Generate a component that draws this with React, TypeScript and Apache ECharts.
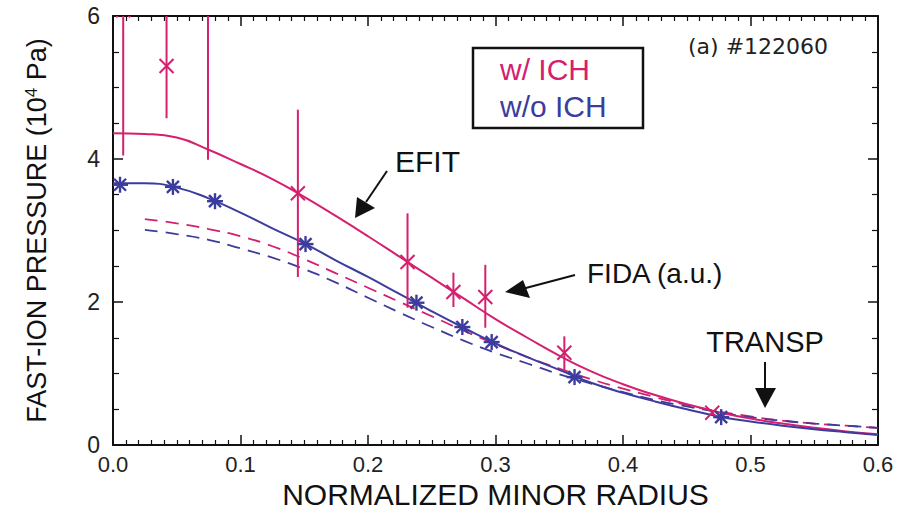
import React, { useEffect, useRef } from "react";
import * as echarts from "echarts";

// ---- data ----
const RED = "#d4206e";
const BLUE = "#3c3c9e";

// EFIT profiles (solid)
const efitWithICH: [number, number][] = [
  [0, 4.36], [0.025, 4.35], [0.05, 4.3], [0.075, 4.13], [0.1, 3.93], [0.125, 3.72],
  [0.15, 3.47], [0.175, 3.2], [0.2, 2.92], [0.225, 2.63], [0.25, 2.34], [0.275, 2.05],
  [0.3, 1.76], [0.325, 1.5], [0.35, 1.25], [0.375, 1.03], [0.4, 0.85], [0.425, 0.7],
  [0.45, 0.57], [0.475, 0.46], [0.5, 0.37], [0.525, 0.3], [0.55, 0.24], [0.575, 0.19], [0.6, 0.15],
];
const efitWithoutICH: [number, number][] = [
  [0, 3.66], [0.025, 3.66], [0.05, 3.6], [0.075, 3.45], [0.1, 3.25], [0.125, 3.03],
  [0.15, 2.82], [0.175, 2.58], [0.2, 2.35], [0.225, 2.11], [0.25, 1.87], [0.275, 1.64],
  [0.3, 1.42], [0.325, 1.23], [0.35, 1.05], [0.375, 0.87], [0.4, 0.73], [0.425, 0.61],
  [0.45, 0.5], [0.475, 0.4], [0.5, 0.33], [0.525, 0.27], [0.55, 0.22], [0.575, 0.18], [0.6, 0.14],
];
// TRANSP profiles (dashed)
const transpWithICH: [number, number][] = [
  [0.025, 3.16], [0.05, 3.1], [0.075, 3.02], [0.1, 2.92], [0.125, 2.78], [0.15, 2.6],
  [0.175, 2.4], [0.2, 2.2], [0.225, 2.0], [0.25, 1.8], [0.275, 1.6], [0.3, 1.41],
  [0.325, 1.23], [0.35, 1.07], [0.375, 0.92], [0.4, 0.79], [0.425, 0.67], [0.45, 0.56],
  [0.475, 0.47], [0.5, 0.4], [0.525, 0.34], [0.55, 0.3], [0.575, 0.27], [0.6, 0.24],
];
const transpWithoutICH: [number, number][] = [
  [0.025, 3.01], [0.05, 2.95], [0.075, 2.87], [0.1, 2.75], [0.125, 2.62], [0.15, 2.46],
  [0.175, 2.27], [0.2, 2.06], [0.225, 1.85], [0.25, 1.65], [0.275, 1.46], [0.3, 1.29],
  [0.325, 1.14], [0.35, 0.99], [0.375, 0.86], [0.4, 0.74], [0.425, 0.63], [0.45, 0.54],
  [0.475, 0.46], [0.5, 0.39], [0.525, 0.34], [0.55, 0.3], [0.575, 0.27], [0.6, 0.24],
];
// FIDA (a.u.) with ICH: [x, value, low, high]
const fidaWithICH: [number, number, number, number][] = [
  [0.008, 6.08, 4.05, 8.1],
  [0.042, 5.3, 4.57, 6.03],
  [0.0745, 6.3, 3.99, 8.6],
  [0.145, 3.52, 2.35, 4.69],
  [0.231, 2.56, 1.92, 3.24],
  [0.267, 2.14, 1.93, 2.41],
  [0.292, 2.07, 1.64, 2.52],
  [0.354, 1.29, 1.05, 1.52],
  [0.47, 0.45, 0.42, 0.48],
];
// EFIT knots without ICH
const efitPointsWithoutICH: [number, number][] = [
  [0.0055, 3.64], [0.047, 3.61], [0.08, 3.41], [0.151, 2.81], [0.238, 1.99],
  [0.274, 1.65], [0.297, 1.44], [0.362, 0.95], [0.477, 0.39],
];

const xTicks = { min: 0, max: 0.6, interval: 0.1 };
const yTicks = { min: 0, max: 6, interval: 2 };

const FONT = "Liberation Sans";

export default function App() {
  const ref = useRef<HTMLDivElement>(null);
  useEffect(() => {
    const chart = echarts.init(ref.current!, null, { renderer: "svg" });

    const axisCommon = {
      type: "value" as const,
      splitLine: { show: false },
      axisLine: { show: true, onZero: false, lineStyle: { color: "#111", width: 2 } },
      axisTick: { show: true, inside: true, length: 10, lineStyle: { color: "#111", width: 1.5 } },
      minorTick: { show: true, length: 5, lineStyle: { color: "#111", width: 1.2 } },
      minorSplitLine: { show: false },
    };

    const xAxisBase = { ...axisCommon, ...xTicks, minorTick: { ...axisCommon.minorTick, splitNumber: 10 } };
    const yAxisBase = { ...axisCommon, ...yTicks, minorTick: { ...axisCommon.minorTick, splitNumber: 4, length: 6 } };

    const errRender = (params: any, api: any) => {
      const x = api.value(0), y = api.value(1), lo = api.value(2), hi = api.value(3);
      const c = api.coord([x, y]);
      const pl = api.coord([x, lo]);
      const ph = api.coord([x, hi]);
      const s = 7;
      const st = { stroke: RED, lineWidth: 2 };
      return {
        type: "group",
        children: [
          { type: "line", shape: { x1: pl[0], y1: pl[1], x2: ph[0], y2: ph[1] }, style: st },
          { type: "line", shape: { x1: c[0] - s, y1: c[1] - s, x2: c[0] + s, y2: c[1] + s }, style: st },
          { type: "line", shape: { x1: c[0] - s, y1: c[1] + s, x2: c[0] + s, y2: c[1] - s }, style: st },
        ],
      };
    };
    const starRender = (params: any, api: any) => {
      const c = api.coord([api.value(0), api.value(1)]);
      const s = 8;
      const d = 6;
      const st = { stroke: BLUE, lineWidth: 2.4 };
      return {
        type: "group",
        children: [
          { type: "line", shape: { x1: c[0] - s, y1: c[1], x2: c[0] + s, y2: c[1] }, style: st },
          { type: "line", shape: { x1: c[0], y1: c[1] - s, x2: c[0], y2: c[1] + s }, style: st },
          { type: "line", shape: { x1: c[0] - d, y1: c[1] - d, x2: c[0] + d, y2: c[1] + d }, style: st },
          { type: "line", shape: { x1: c[0] - d, y1: c[1] + d, x2: c[0] + d, y2: c[1] - d }, style: st },
        ],
      };
    };

    const arrowStyle = { stroke: "#111", lineWidth: 2 };

    chart.setOption({
      animation: false,
      backgroundColor: "#fff",
      textStyle: { fontFamily: FONT },
      grid: { left: 113, right: 19, top: 16, bottom: 66, containLabel: false, outerBoundsMode: "none" },
      xAxis: [
        {
          ...xAxisBase,
          position: "bottom",
          axisLabel: { fontSize: 22, lineHeight: 22, color: "#222", margin: 8, fontFamily: FONT, formatter: (v: number) => v.toFixed(1) },
          name: "NORMALIZED MINOR RADIUS",
          nameLocation: "middle",
          nameGap: 34,
          nameMoveOverlap: false,
          nameTextStyle: { fontSize: 30, lineHeight: 30, color: "#111", fontFamily: FONT },
        },
        { ...xAxisBase, position: "top", axisLabel: { show: false } },
      ],
      yAxis: [
        {
          ...yAxisBase,
          position: "left",
          axisLabel: { fontSize: 23, color: "#222", margin: 13, fontFamily: FONT },
          name: "{a|FAST-ION PRESSURE (10}{b|4}{a| Pa)}",
          nameLocation: "middle",
          nameGap: 62,
          nameMoveOverlap: false,
          nameRotate: 90,
          nameTextStyle: {
            fontFamily: FONT,
            rich: {
              a: { fontSize: 27, color: "#111", fontFamily: FONT },
              b: { fontSize: 17, color: "#111", fontFamily: FONT, padding: [0, 0, 11, 0] },
            },
          },
        },
        { ...yAxisBase, position: "right", axisLabel: { show: false } },
      ],
      series: [
        { type: "line", data: transpWithICH, smooth: true, showSymbol: false, lineStyle: { color: RED, width: 1.8, type: [13, 8] }, z: 2 },
        { type: "line", data: transpWithoutICH, smooth: true, showSymbol: false, lineStyle: { color: BLUE, width: 1.8, type: [13, 8] }, z: 2 },
        { type: "line", data: efitWithICH, smooth: true, showSymbol: false, lineStyle: { color: RED, width: 2 }, z: 3 },
        { type: "line", data: efitWithoutICH, smooth: true, showSymbol: false, lineStyle: { color: BLUE, width: 2 }, z: 3 },
        { type: "custom", data: fidaWithICH, renderItem: errRender, clip: true, z: 4 },
        { type: "custom", data: efitPointsWithoutICH, renderItem: starRender, clip: true, z: 4 },
      ],
      graphic: [
        { type: "rect", shape: { x: 473, y: 48, width: 170, height: 80 }, style: { fill: "none", stroke: "#111", lineWidth: 2.5 } },
        { type: "text", x: 500, y: 69, style: { text: "w/ ICH", fill: RED, font: `30px "${FONT}"`, textVerticalAlign: "middle" } },
        { type: "text", x: 500, y: 106, style: { text: "w/o ICH", fill: BLUE, font: `30px "${FONT}"`, textVerticalAlign: "middle" } },
        { type: "text", x: 688, y: 46, style: { text: "(a) #122060", fill: "#222", font: `22px "DejaVu Sans"`, textVerticalAlign: "middle" } },
        { type: "text", x: 395, y: 161, style: { text: "EFIT", fill: "#111", font: `30px "${FONT}"`, textVerticalAlign: "middle" } },
        { type: "line", shape: { x1: 387, y1: 171, x2: 366, y2: 202 }, style: arrowStyle },
        { type: "polygon", shape: { points: [[355, 218], [357, 197], [375, 208]] }, style: { fill: "#111" } },
        { type: "text", x: 587, y: 273, style: { text: "FIDA (a.u.)", fill: "#111", font: `28px "${FONT}"`, textVerticalAlign: "middle" } },
        { type: "line", shape: { x1: 575, y1: 275, x2: 522, y2: 289 }, style: arrowStyle },
        { type: "polygon", shape: { points: [[505, 292], [523, 280], [530, 298]] }, style: { fill: "#111" } },
        { type: "text", x: 765, y: 342, style: { text: "TRANSP", fill: "#111", font: `29px "${FONT}"`, textAlign: "center", textVerticalAlign: "middle" } },
        { type: "line", shape: { x1: 765, y1: 362, x2: 765, y2: 392 }, style: arrowStyle },
        { type: "polygon", shape: { points: [[765, 408], [755, 388], [776, 388]] }, style: { fill: "#111" } },
      ],
    });
    return () => chart.dispose();
  }, []);
  return <div ref={ref} style={{ position: "fixed", left: 0, top: 0, width: 897, height: 511 }} />;
}
